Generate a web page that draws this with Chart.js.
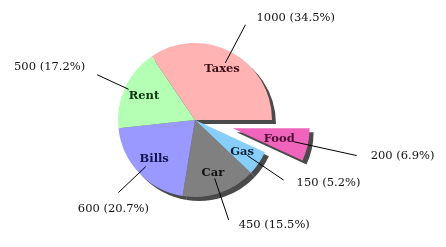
<!DOCTYPE html>
<html>
<head>
<meta charset="utf-8">
<script src="https://cdn.jsdelivr.net/npm/chart.js@4"></script>
<style>
    html, body { margin: 0; padding: 0; background: #fff; }
    canvas { display: block; }
</style>
</head>
<body>
<canvas id="expenseChart" width="446" height="247"></canvas>
<script>
// Expenses, in the order the slices go round (counter-clockwise from 3 o'clock)
const categories = ['Taxes', 'Rent', 'Bills', 'Car', 'Gas', 'Food'];
const amounts = [1000, 500, 600, 450, 150, 200];
const sliceColors = ['#ffb3b3', '#b3ffb3', '#9999ff', '#808080', '#87cefa', '#f064bc'];
const labelColors = ['#3d0d14', '#0d330d', '#14144d', '#111111', '#0d2238', '#4d0a33'];
const explode = [0, 0, 0, 0, 0, 0.5]; // fraction of the radius

// Label layout per slice (fractions of the radius, text offsets in px)
const innerLabelDist = [0.75, 0.73, 0.73, 0.73, 0.74, 0.62];
const lineStartDist = [0.84, 0.95, 0.88, 0.80, 0.82, 0.82];
const lineEndDist = [1.40, 1.40, 1.37, 1.37, 1.39, 1.65];
const outerTextPos = [
    { dx: 11, dy: -7, align: 'left' },
    { dx: -12, dy: -8, align: 'right' },
    { dx: -5, dy: 16, align: 'center' },
    { dx: 10, dy: 5, align: 'left' },
    { dx: 13, dy: 3, align: 'left' },
    { dx: 14, dy: 0, align: 'left' }
];

const SHADOW_DX = 4;
const SHADOW_DY = 4;
const SHADOW_COLOR = '#4a4a4a';

const total = amounts.reduce((a, b) => a + b, 0);

// Chart.js goes clockwise on screen, so feed the slices in reverse
const n = categories.length;
const chartData = amounts.slice().reverse();
const chartColors = sliceColors.map((c, i) => explode[i] > 0 ? 'rgba(0,0,0,0)' : c).reverse();

/**
 * Geometry of each slice, in the original order, with the explode shift applied
 */
function getSlices(chart) {
    const meta = chart.getDatasetMeta(0);
    const slices = [];
    meta.data.forEach((arc, i) => {
        const idx = n - 1 - i;
        const p = arc.getProps(['x', 'y', 'startAngle', 'endAngle', 'outerRadius'], true);
        const mid = (p.startAngle + p.endAngle) / 2;
        const shift = explode[idx] * p.outerRadius;
        slices[idx] = {
            cx: p.x + Math.cos(mid) * shift,
            cy: p.y + Math.sin(mid) * shift,
            start: p.startAngle,
            end: p.endAngle,
            r: p.outerRadius,
            mid: mid
        };
    });
    return slices;
}

function fillWedge(ctx, s, dx, dy, color) {
    ctx.beginPath();
    ctx.moveTo(s.cx + dx, s.cy + dy);
    ctx.arc(s.cx + dx, s.cy + dy, s.r, s.start, s.end);
    ctx.closePath();
    ctx.fillStyle = color;
    ctx.fill();
}

const pieExtras = {
    id: 'pieExtras',
    beforeDatasetsDraw(chart) {
        const ctx = chart.ctx;
        ctx.save();
        getSlices(chart).forEach(s => fillWedge(ctx, s, SHADOW_DX, SHADOW_DY, SHADOW_COLOR));
        ctx.restore();
    },
    afterDatasetsDraw(chart) {
        const ctx = chart.ctx;
        const slices = getSlices(chart);
        ctx.save();

        // exploded slices
        slices.forEach((s, i) => {
            if (explode[i] > 0) fillWedge(ctx, s, 0, 0, sliceColors[i]);
        });

        // leader lines
        ctx.strokeStyle = '#000';
        ctx.lineWidth = 1;
        slices.forEach((s, i) => {
            const c = Math.cos(s.mid), si = Math.sin(s.mid);
            ctx.beginPath();
            ctx.moveTo(s.cx + c * s.r * lineStartDist[i], s.cy + si * s.r * lineStartDist[i]);
            ctx.lineTo(s.cx + c * s.r * lineEndDist[i], s.cy + si * s.r * lineEndDist[i]);
            ctx.stroke();
        });

        // names inside the slices
        ctx.font = 'bold 11.5px "DejaVu Serif"';
        ctx.textAlign = 'center';
        ctx.textBaseline = 'middle';
        slices.forEach((s, i) => {
            ctx.fillStyle = labelColors[i];
            ctx.fillText(categories[i],
                s.cx + Math.cos(s.mid) * s.r * innerLabelDist[i],
                s.cy + Math.sin(s.mid) * s.r * innerLabelDist[i]);
        });

        // value labels outside
        ctx.font = '11.5px "DejaVu Serif"';
        ctx.fillStyle = '#111';
        slices.forEach((s, i) => {
            const ex = s.cx + Math.cos(s.mid) * s.r * lineEndDist[i];
            const ey = s.cy + Math.sin(s.mid) * s.r * lineEndDist[i];
            const pos = outerTextPos[i];
            const pct = (amounts[i] / total * 100).toFixed(1);
            ctx.textAlign = pos.align;
            ctx.fillText(amounts[i] + ' (' + pct + '%)', ex + pos.dx, ey + pos.dy);
        });

        ctx.restore();
    }
};

new Chart(document.getElementById('expenseChart'), {
    type: 'pie',
    data: {
        labels: categories.slice().reverse(),
        datasets: [{
            data: chartData,
            backgroundColor: chartColors,
            borderWidth: 0,
            radius: 77
        }]
    },
    options: {
        responsive: false,
        animation: false,
        events: [],
        rotation: 90,
        layout: {
            padding: { left: 0, right: 56, top: 0, bottom: 7 }
        },
        plugins: {
            legend: { display: false },
            tooltip: { enabled: false }
        }
    },
    plugins: [pieExtras]
});
</script>
</body>
</html>
